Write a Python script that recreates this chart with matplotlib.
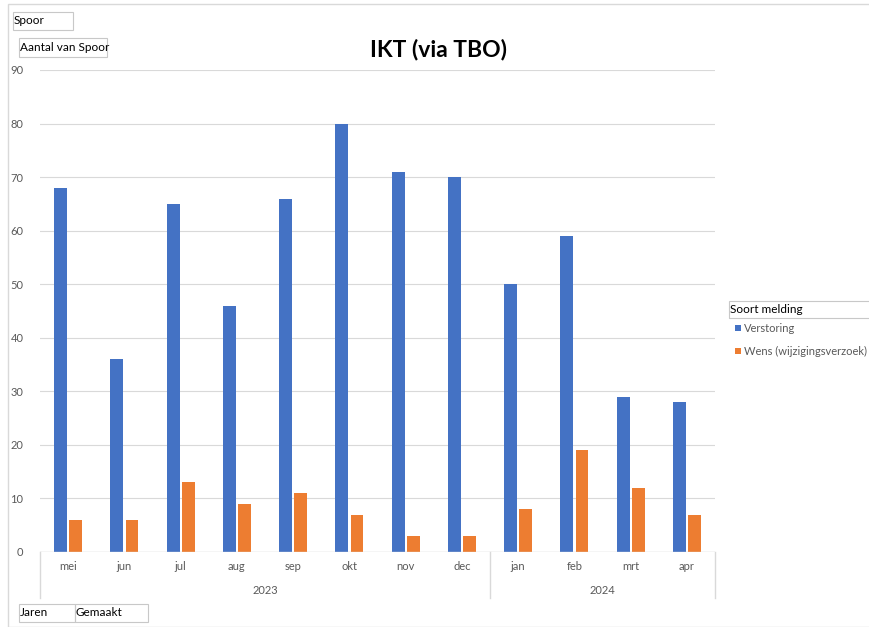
import matplotlib.pyplot as plt
import matplotlib.transforms as mtransforms
from matplotlib.patches import Rectangle
import numpy as np

plt.rcParams['font.family'] = ['Lato', 'DejaVu Sans']

maanden = ['mei', 'jun', 'jul', 'aug', 'sep', 'okt', 'nov', 'dec', 'jan', 'feb', 'mrt', 'apr']
jaren = ['2023', '2024']
maanden_per_jaar = [8, 4]
verstoring = [68, 36, 65, 46, 66, 80, 71, 70, 50, 59, 29, 28]
wens = [6, 6, 13, 9, 11, 7, 3, 3, 8, 19, 12, 7]

blauw = '#4472C4'
oranje = '#ED7D31'
grijs = '#595959'
lijn = '#D9D9D9'

W, H = 870, 627
fig = plt.figure(figsize=(W / 100, H / 100), dpi=100)

def fx(px):
    return px / W

def fy(py):
    return 1 - py / H

ax = fig.add_axes([fx(40), fy(552), fx(715) - fx(40), fy(70) - fy(552)])
x = np.arange(len(maanden))
bw = 0.23
ax.bar(x - bw / 2 - 0.02, verstoring, width=bw, color=blauw, zorder=3)
ax.bar(x + bw / 2 + 0.02, wens, width=bw, color=oranje, zorder=3)

ax.set_xlim(-0.5, len(maanden) - 0.5)
ax.set_ylim(0, 90)
ax.set_yticks(range(0, 91, 10))
ax.tick_params(axis='y', length=0, pad=12, labelsize=8, labelcolor=grijs)
ax.set_xticks([])
ax.yaxis.grid(True, color=lijn, linewidth=0.8, zorder=0)
for s in ax.spines.values():
    s.set_visible(False)
ax.axhline(0, color=lijn, linewidth=1, zorder=4)

# categorie-as met maanden en jaren
trans = mtransforms.blended_transform_factory(ax.transData, fig.transFigure)
for i, m in enumerate(maanden):
    ax.text(i, fy(567), m, transform=trans, ha='center', va='center', fontsize=8, color=grijs)
grens = -0.5
for jaar, n in zip(jaren, maanden_per_jaar):
    ax.plot([grens, grens], [fy(552), fy(598)], transform=trans, color=lijn, linewidth=1, clip_on=False)
    ax.text(grens + n / 2, fy(590), jaar, transform=trans, ha='center', va='center', fontsize=8, color=grijs)
    grens += n
ax.plot([grens, grens], [fy(552), fy(598)], transform=trans, color=lijn, linewidth=1, clip_on=False)

fig.text(fx(439), fy(50), 'IKT (via TBO)', ha='center', va='center', fontsize=16.5, fontweight='bold', color='black')

# kader om de grafiek
fig.patches.append(Rectangle((fx(8), fy(627)), fx(870) - fx(8), fy(4) - fy(627), transform=fig.transFigure,
                             fill=False, edgecolor=lijn, linewidth=1))

def knop(x0, y0, x1, y1, tekst):
    fig.patches.append(Rectangle((fx(x0), fy(y1)), fx(x1) - fx(x0), fy(y0) - fy(y1), transform=fig.transFigure,
                                 fill=False, edgecolor='#C8C8C8', linewidth=0.8))
    fig.text(fx(x0 + 1), fy((y0 + y1) / 2), tekst, ha='left', va='center', fontsize=8.5, color='black')

knop(13, 12, 73, 30, 'Spoor')
knop(19, 38, 107, 57, 'Aantal van Spoor')
knop(19, 604, 75, 622, 'Jaren')
knop(75, 604, 148, 622, 'Gemaakt')
knop(729, 301, 872, 318, 'Soort melding')

# legenda
for py, kleur, naam in [(328, blauw, 'Verstoring'), (351, oranje, 'Wens (wijzigingsverzoek)')]:
    fig.patches.append(Rectangle((fx(735), fy(py + 3)), fx(6), fy(0) - fy(6), transform=fig.transFigure,
                                 facecolor=kleur, edgecolor='none'))
    fig.text(fx(744), fy(py), naam, ha='left', va='center', fontsize=8, color=grijs)

fig.savefig('out.png', dpi=100)
